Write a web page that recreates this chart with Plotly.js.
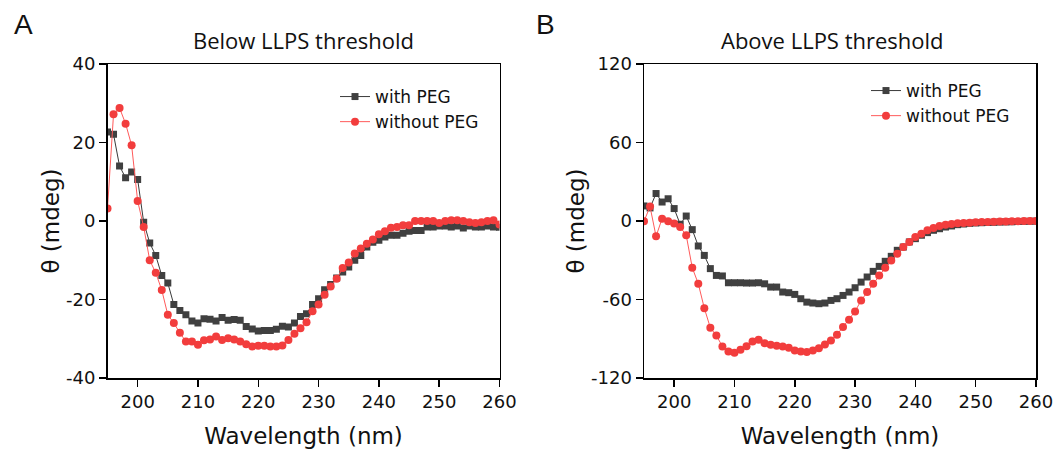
<!DOCTYPE html>
<html>
<head>
<meta charset="utf-8">
<script src="https://cdn.plot.ly/plotly-3.0.1.min.js"></script>
<style>html,body{margin:0;padding:0;background:#fff;}#chart{width:1059px;height:458px;}</style>
</head>
<body>
<div id="chart"></div>
<script>
// Wavelength (nm)
const wavelength = [195,196,197,198,199,200,201,202,203,204,205,206,207,208,209,210,211,212,213,214,215,216,217,218,219,220,221,222,223,224,225,226,227,228,229,230,231,232,233,234,235,236,237,238,239,240,241,242,243,244,245,246,247,248,249,250,251,252,253,254,255,256,257,258,259,260];

// Panel A: Below LLPS threshold (mdeg)
const belowWithPEG = [22.7,22.1,14.0,11.0,12.5,10.6,-0.3,-5.6,-8.8,-13.9,-15.8,-21.3,-22.8,-23.9,-25.5,-26.0,-24.9,-25.0,-25.5,-24.6,-25.3,-25.1,-25.3,-26.9,-27.5,-28.0,-27.9,-27.9,-27.6,-26.8,-27.0,-26.0,-24.3,-23.6,-21.3,-19.8,-17.5,-16.2,-14.5,-13.0,-11.7,-10.0,-8.8,-6.6,-5.4,-4.9,-4.1,-3.6,-3.6,-3.1,-2.6,-2.4,-2.4,-1.5,-1.5,-1.3,-1.3,-1.5,-1.3,-1.8,-1.3,-1.5,-1.5,-1.3,-1.5,-1.6];
const belowWithoutPEG = [3.2,27.2,28.8,24.8,19.3,5.1,-1.5,-10.0,-13.2,-17.6,-23.9,-26.0,-28.5,-30.7,-30.7,-31.5,-30.4,-30.2,-29.4,-30.3,-29.9,-30.2,-30.7,-31.4,-32.0,-31.8,-31.8,-32.0,-32.0,-31.7,-30.3,-28.7,-27.3,-25.8,-23.0,-21.3,-18.8,-16.7,-14.7,-12.0,-10.6,-8.3,-7.0,-5.8,-4.7,-3.4,-2.6,-1.7,-1.5,-1.1,-1.1,0.0,0.0,0.0,0.0,-0.5,0.0,0.2,0.2,0.0,-0.3,-0.5,-0.3,0.0,0.2,-0.9];

// Panel B: Above LLPS threshold (mdeg)
const aboveWithPEG = [11.5,10.0,21.0,14.5,17.0,9.5,-2.5,3.8,-6.6,-19.1,-26.3,-36.4,-41.6,-42.0,-47.2,-47.2,-47.2,-47.4,-47.4,-47.2,-48.0,-50.5,-50.5,-54.3,-54.8,-56.1,-59.4,-62.0,-62.7,-63.2,-62.7,-60.7,-59.4,-56.9,-54.3,-51.0,-46.7,-42.8,-38.5,-34.7,-30.8,-27.0,-22.4,-19.9,-16.0,-13.5,-10.9,-8.9,-7.1,-5.9,-4.6,-3.8,-2.8,-2.3,-1.8,-1.5,-1.3,-1.1,-1.0,-0.8,-0.7,-0.6,-0.4,-0.3,-0.2,-0.1];
const aboveWithoutPEG = [-0.2,11.0,-11.7,1.8,-0.2,-2.0,-4.6,-10.9,-35.7,-47.9,-66.6,-81.6,-87.5,-95.9,-99.7,-100.7,-98.4,-95.7,-92.1,-90.8,-93.4,-94.6,-95.4,-95.9,-96.9,-99.0,-99.7,-100.2,-99.0,-97.2,-94.4,-91.3,-86.9,-81.1,-75.5,-69.1,-60.7,-54.3,-47.9,-41.6,-35.7,-30.1,-25.0,-19.9,-16.0,-12.2,-9.7,-7.1,-5.4,-3.8,-2.8,-2.3,-1.8,-1.5,-1.3,-1.0,-0.8,-0.7,-0.5,-0.4,-0.3,-0.2,-0.1,0.0,0.0,0.0];

const seriesNames = ['with PEG', 'without PEG'];
const xTicks = [200,210,220,230,240,250,260];
const yTicksA = [-40,-20,0,20,40];
const yTickTextA = ['-40','-20','0','20','40'];
const yTicksB = [-120,-60,0,60,120];
const yTickTextB = ['-120','-60','0','60','120'];
const panelTitles = ['Below LLPS threshold', 'Above LLPS threshold'];
const panelLetters = ['A', 'B'];

const W = 1059, H = 458;
const px = v => v / W;
const py = v => 1 - v / H;

const greyStyle = {
  mode: 'lines+markers',
  line: {color: '#3a3a3a', width: 1},
  marker: {symbol: 'square', size: 7, color: '#404040'}
};
const redStyle = {
  mode: 'lines+markers',
  line: {color: '#ff5a5a', width: 1},
  marker: {symbol: 'circle', size: 8, color: '#f23d3d'}
};

const traces = [
  Object.assign({x: wavelength, y: belowWithPEG, name: seriesNames[0], xaxis: 'x', yaxis: 'y', legend: 'legend'}, greyStyle),
  Object.assign({x: wavelength, y: belowWithoutPEG, name: seriesNames[1], xaxis: 'x', yaxis: 'y', legend: 'legend'}, redStyle),
  Object.assign({x: wavelength, y: aboveWithPEG, name: seriesNames[0], xaxis: 'x2', yaxis: 'y2', legend: 'legend2'}, greyStyle),
  Object.assign({x: wavelength, y: aboveWithoutPEG, name: seriesNames[1], xaxis: 'x2', yaxis: 'y2', legend: 'legend2'}, redStyle)
];

const tickFont = {family: 'DejaVu Sans, Arial, sans-serif', size: 18, color: '#111'};
const axTitleFont = {family: 'DejaVu Sans, Arial, sans-serif', size: 23, color: '#111'};

function xAxis(domain, anchor) {
  return {
    domain: domain, anchor: anchor, range: [195, 260], tickvals: xTicks,
    ticks: 'outside', ticklen: 7, tickwidth: 1.5, tickcolor: '#000',
    showline: true, linecolor: '#000', linewidth: 1.5, mirror: true,
    showgrid: false, zeroline: false, tickfont: tickFont,
    title: {text: 'Wavelength (nm)', font: axTitleFont, standoff: 17},
    fixedrange: true
  };
}
function yAxis(domain, anchor, range, ticks, labels) {
  return {
    domain: domain, anchor: anchor, range: range, tickvals: ticks, ticktext: labels,
    ticks: 'outside', ticklen: 7, tickwidth: 1.5, tickcolor: '#000',
    showline: true, linecolor: '#000', linewidth: 1.5, mirror: true,
    showgrid: false, zeroline: false, tickfont: tickFont,
    title: {text: 'θ (mdeg)', font: axTitleFont, standoff: 0},
    fixedrange: true
  };
}

const yDom = [py(378), py(64)];
const legendFont = {family: 'DejaVu Sans, Arial, sans-serif', size: 17, color: '#111'};
const titleFont = {family: 'Open Sans, Noto Sans, sans-serif', size: 22, color: '#111'};
const letterFont = {family: 'Liberation Sans, Arial, sans-serif', size: 28, color: '#111'};

const layout = {
  width: W, height: H,
  margin: {l: 0, r: 0, t: 0, b: 0},
  paper_bgcolor: '#fff', plot_bgcolor: '#fff',
  showlegend: true,
  xaxis: xAxis([px(107.5), px(499.5)], 'y'),
  yaxis: yAxis(yDom, 'x', [-40, 40], yTicksA, yTickTextA),
  xaxis2: xAxis([px(644), px(1036)], 'y2'),
  yaxis2: yAxis(yDom, 'x2', [-120, 120], yTicksB, yTickTextB),
  legend: {x: px(335), y: py(79), xanchor: 'left', yanchor: 'top', bgcolor: 'rgba(0,0,0,0)', font: legendFont, tracegroupgap: 0},
  legend2: {x: px(866), y: py(73), xanchor: 'left', yanchor: 'top', bgcolor: 'rgba(0,0,0,0)', font: legendFont, tracegroupgap: 0},
  annotations: [
    {text: panelTitles[0], x: px(303), y: py(40), xref: 'paper', yref: 'paper', showarrow: false, xanchor: 'center', yanchor: 'middle', font: titleFont},
    {text: panelTitles[1], x: px(832), y: py(40), xref: 'paper', yref: 'paper', showarrow: false, xanchor: 'center', yanchor: 'middle', font: titleFont},
    {text: panelLetters[0], x: px(23), y: py(24), xref: 'paper', yref: 'paper', showarrow: false, xanchor: 'center', yanchor: 'middle', font: letterFont},
    {text: panelLetters[1], x: px(545), y: py(24), xref: 'paper', yref: 'paper', showarrow: false, xanchor: 'center', yanchor: 'middle', font: letterFont}
  ]
};

Plotly.newPlot('chart', traces, layout, {staticPlot: true, displayModeBar: false});
</script>
</body>
</html>
